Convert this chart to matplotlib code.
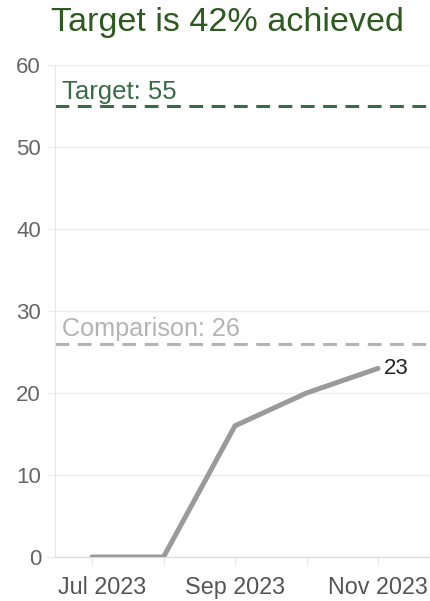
import matplotlib
matplotlib.use("Agg")
import matplotlib.pyplot as plt
import matplotlib.transforms as mtransforms

# Data
months = ["Jul 2023", "Aug 2023", "Sep 2023", "Oct 2023", "Nov 2023"]
values = [0, 0, 16, 20, 23]
target = 55
comparison = 26
achieved_pct = 42

TITLE_GREEN = "#2d5a1e"
TARGET_GREEN = "#386b47"
COMP_GRAY = "#b4b4b4"
LINE_GRAY = "#9a9a9a"
GRID = "#ececec"
TICK_TXT = "#666666"

plt.rcParams["font.family"] = ["Liberation Sans", "DejaVu Sans"]

fig = plt.figure(figsize=(4.31, 6.01), dpi=100)
W, H = 431, 601
ax = fig.add_axes([55 / W, (H - 557) / H, 1 - 55 / W, (557 - 65) / H])

x = list(range(len(months)))
px_per_month = 71.5
ax.set_xlim(-(92 - 55) / px_per_month, -(92 - 55) / px_per_month + 376 / px_per_month)
ax.set_ylim(0, 60)

# gridlines
ax.set_yticks(range(0, 61, 10))
ax.yaxis.grid(True, color=GRID, linewidth=1)
ax.set_axisbelow(True)

# reference lines
ax.axhline(target, color=TARGET_GREEN, linewidth=2.2, dashes=(4.5, 2.8), zorder=2)
ax.axhline(comparison, color=COMP_GRAY, linewidth=2.2, dashes=(4.5, 2.8), zorder=2)
ax.annotate(f"Target: {target}", xy=(0, target), xycoords=("axes fraction", "data"),
            xytext=(7, 7), textcoords="offset pixels", fontsize=18.5,
            color=TARGET_GREEN, va="baseline", ha="left")
ax.annotate(f"Comparison: {comparison}", xy=(0, comparison), xycoords=("axes fraction", "data"),
            xytext=(7, 8), textcoords="offset pixels", fontsize=18.2,
            color=COMP_GRAY, va="baseline", ha="left")

# main series
ax.plot(x, values, color=LINE_GRAY, linewidth=3.6, solid_capstyle="round",
        solid_joinstyle="round", zorder=3)
ax.annotate(f"{values[-1]}", xy=(x[-1], values[-1]), xytext=(6, 0),
            textcoords="offset pixels", fontsize=16, color="#222222",
            va="center", ha="left")

# x ticks: every month, labels every other month
ax.set_xticks(x)
ax.set_xticklabels([m if i % 2 == 0 else "" for i, m in enumerate(months)])

# spines and ticks
for s in ["top", "right"]:
    ax.spines[s].set_visible(False)
ax.spines["left"].set_color("#e6e6e6")
ax.spines["bottom"].set_color("#dddddd")
ax.spines["left"].set_linewidth(0.8)
ax.spines["bottom"].set_linewidth(1.0)
ax.tick_params(axis="y", length=6, color=GRID, labelsize=16, labelcolor=TICK_TXT, pad=4)
ax.tick_params(axis="x", length=6, color="#e6e6e6", labelsize=16.8, labelcolor="#555555", pad=8)

# first label sits a bit right of its tick, as in the source
first = ax.get_xticklabels()[0]
first.set_transform(first.get_transform() +
                    mtransforms.ScaledTranslation(10 / 100, 0, fig.dpi_scale_trans))

fig.text(0.528, 1 - 31 / H, f"Target is {achieved_pct}% achieved", fontsize=24.6,
         color=TITLE_GREEN, ha="center", va="baseline")

fig.savefig("out.png", dpi=100, facecolor="white")
